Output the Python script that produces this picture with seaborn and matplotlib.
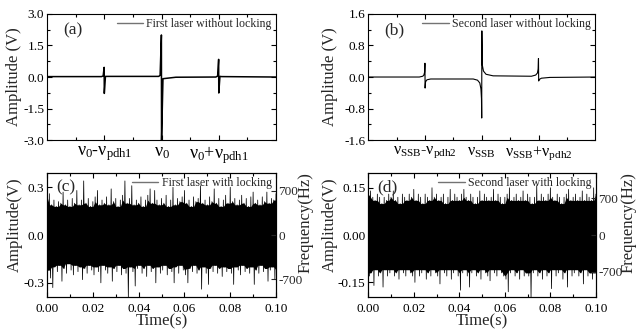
import numpy as np
import pandas as pd
import matplotlib
matplotlib.use('Agg')
import matplotlib.pyplot as plt
from matplotlib.ticker import MultipleLocator, FixedLocator
import seaborn as sns

# %% data
# (a) first laser error signal, sweep in arbitrary frequency units
a_freq = [0, 1.9, 1.96, 1.995, 2.0, 2.04, 2.1, 3.9, 3.95, 3.995, 4.0, 4.05,
          4.5, 5.9, 5.96, 5.995, 6.0, 6.04, 6.1, 8]
a_amp = [0.02, 0.02, 0.05, 0.46, -0.78, 0.03, 0.03, 0.03, 0.08, 2.0, -3.05,
         -0.08, -0.01, 0.0, 0.05, 0.84, -0.76, 0.03, 0.02, 0.0]

# (b) second laser error signal
b_freq = [0, 1.8, 1.92, 1.96, 1.985, 1.998, 2.003, 2.02, 2.07, 2.2, 3.7, 3.85,
          3.93, 3.97, 3.99, 3.998, 4.003, 4.02, 4.06, 4.15, 4.4, 5.75, 5.9,
          5.96, 5.985, 5.998, 6.005, 6.03, 6.1, 6.4, 8]
b_amp = [0.0, 0.0, 0.02, 0.05, 0.12, 0.35, -0.28, -0.12, -0.07, -0.05, -0.05,
         -0.08, -0.15, -0.3, -0.55, -1.04, 1.17, 0.3, 0.15, 0.07, 0.03, 0.02,
         0.05, 0.1, 0.2, 0.47, -0.1, -0.06, -0.03, -0.01, 0.0]

a_ticklabels = [r'$\nu_0$-$\nu_{\rm pdh1}$', r'$\nu_0$', r'$\nu_0$+$\nu_{\rm pdh1}$']
b_ticklabels = [r'$\nu_{\rm SSB}$-$\nu_{\rm pdh2}$', r'$\nu_{\rm SSB}$',
                r'$\nu_{\rm SSB}$+$\nu_{\rm pdh2}$']

# (c) locked first laser: upper / lower excursions every 1 ms
c_upper = [0.24, 0.26, 0.19, 0.22, 0.18, 0.21, 0.2, 0.27, 0.19, 0.22,
           0.18, 0.23, 0.2, 0.28, 0.19, 0.22, 0.34, 0.2, 0.23, 0.18,
           0.21, 0.24, 0.28, 0.19, 0.22, 0.2, 0.24, 0.19, 0.29, 0.21,
           0.23, 0.18, 0.22, 0.25, 0.34, 0.2, 0.23, 0.31, 0.19, 0.22,
           0.2, 0.24, 0.18, 0.22, 0.25, 0.29, 0.2, 0.28, 0.22, 0.19,
           0.23, 0.2, 0.25, 0.18, 0.22, 0.3, 0.19, 0.23, 0.21, 0.24,
           0.28, 0.2, 0.22, 0.18, 0.24, 0.21, 0.23, 0.31, 0.2, 0.22,
           0.19, 0.24, 0.21, 0.29, 0.2, 0.23, 0.18, 0.22, 0.25, 0.2,
           0.3, 0.21, 0.23, 0.19, 0.22, 0.25, 0.2, 0.23, 0.18, 0.24,
           0.27, 0.2, 0.22, 0.19, 0.24, 0.21, 0.27, 0.2, 0.23, 0.22, 0.26]
c_lower = [-0.22, -0.27, -0.33, -0.2, -0.23, -0.19, -0.29, -0.21, -0.24, -0.18,
           -0.22, -0.25, -0.19, -0.23, -0.2, -0.28, -0.21, -0.24, -0.19, -0.22,
           -0.25, -0.2, -0.23, -0.3, -0.19, -0.22, -0.24, -0.2, -0.29, -0.21,
           -0.23, -0.19, -0.25, -0.21, -0.24, -0.39, -0.2, -0.23, -0.32, -0.21,
           -0.19, -0.24, -0.21, -0.26, -0.19, -0.23, -0.21, -0.3, -0.2, -0.24,
           -0.22, -0.19, -0.25, -0.21, -0.23, -0.3, -0.2, -0.24, -0.19, -0.22,
           -0.25, -0.3, -0.21, -0.23, -0.19, -0.24, -0.22, -0.34, -0.2, -0.24,
           -0.31, -0.21, -0.23, -0.19, -0.24, -0.21, -0.26, -0.2, -0.23, -0.21,
           -0.24, -0.31, -0.2, -0.22, -0.25, -0.19, -0.23, -0.21, -0.24, -0.2,
           -0.31, -0.22, -0.24, -0.19, -0.23, -0.21, -0.29, -0.22, -0.2, -0.28, -0.23]

# (d) locked second laser
d_upper = [0.13, 0.14, 0.12, 0.11, 0.13, 0.12, 0.1, 0.12, 0.11, 0.13,
           0.12, 0.14, 0.11, 0.12, 0.1, 0.13, 0.12, 0.11, 0.13, 0.12,
           0.145, 0.11, 0.13, 0.12, 0.1, 0.13, 0.12, 0.11, 0.15, 0.12,
           0.13, 0.11, 0.12, 0.13, 0.1, 0.12, 0.145, 0.11, 0.13, 0.12,
           0.11, 0.13, 0.145, 0.12, 0.11, 0.13, 0.12, 0.1, 0.12, 0.14,
           0.11, 0.13, 0.12, 0.11, 0.12, 0.145, 0.11, 0.13, 0.12, 0.1,
           0.12, 0.13, 0.15, 0.11, 0.12, 0.13, 0.11, 0.12, 0.14, 0.11,
           0.13, 0.12, 0.1, 0.12, 0.157, 0.11, 0.13, 0.12, 0.11, 0.13,
           0.15, 0.12, 0.11, 0.13, 0.12, 0.1, 0.12, 0.13, 0.145, 0.11,
           0.12, 0.13, 0.11, 0.12, 0.14, 0.11, 0.13, 0.12, 0.11, 0.15, 0.13]
d_lower = [-0.13, -0.12, -0.16, -0.11, -0.13, -0.12, -0.165, -0.11, -0.13, -0.12,
           -0.11, -0.13, -0.12, -0.14, -0.11, -0.12, -0.13, -0.11, -0.12, -0.13,
           -0.15, -0.11, -0.13, -0.12, -0.11, -0.14, -0.12, -0.13, -0.11, -0.12,
           -0.13, -0.155, -0.11, -0.12, -0.13, -0.11, -0.14, -0.12, -0.11, -0.13,
           -0.175, -0.12, -0.11, -0.13, -0.165, -0.12, -0.11, -0.13, -0.12, -0.14,
           -0.11, -0.12, -0.13, -0.145, -0.11, -0.12, -0.13, -0.11, -0.12, -0.13,
           -0.14, -0.18, -0.12, -0.11, -0.13, -0.12, -0.14, -0.11, -0.13, -0.12,
           -0.13, -0.2, -0.12, -0.11, -0.13, -0.12, -0.14, -0.11, -0.13, -0.12,
           -0.17, -0.11, -0.13, -0.12, -0.11, -0.14, -0.12, -0.165, -0.11, -0.13,
           -0.12, -0.11, -0.13, -0.12, -0.155, -0.11, -0.13, -0.12, -0.14, -0.12, -0.13]

# %% style
sns.set_style('ticks')
plt.rcParams['font.family'] = ['Liberation Serif', 'DejaVu Serif']
plt.rcParams['mathtext.fontset'] = 'custom'
plt.rcParams['mathtext.rm'] = 'Liberation Serif'
plt.rcParams['mathtext.it'] = 'Liberation Serif'
plt.rcParams['axes.edgecolor'] = 'black'
plt.rcParams['axes.linewidth'] = 0.8

TICK_FS = 9.5
LAB_FS = 12
LEG_FS = 8.6


def style_axes(ax, right=True):
    ax.tick_params(which='both', direction='in', top=True, right=right,
                   colors='black', labelsize=TICK_FS, width=0.8)
    ax.tick_params(which='major', length=3.5)
    ax.tick_params(which='minor', length=2)
    ax.tick_params(axis='x', pad=4)
    ax.tick_params(axis='y', pad=2)


def add_legend(ax):
    leg = ax.legend(loc='upper right', frameon=False, fontsize=LEG_FS,
                    handlelength=2.2, handletextpad=0.3, borderaxespad=0.15,
                    borderpad=0.2)
    for ln in leg.get_lines():
        ln.set_color('0.45')
        ln.set_linewidth(1.0)


def error_panel(rect, freq, amp, lim, step, labels, nu_fs, label, tag, lw,
                ylab_x):
    ax = fig.add_axes(rect)
    df = pd.DataFrame({'f': freq, 'v': amp})
    sns.lineplot(data=df, x='f', y='v', ax=ax, color='black', lw=lw,
                 sort=False, estimator=None, label=label)
    ax.set_xlim(0, 8)
    ax.set_ylim(-lim, lim)
    ax.xaxis.set_major_locator(FixedLocator([2, 4, 6]))
    ax.xaxis.set_minor_locator(FixedLocator([1, 3, 5, 7]))
    ax.set_xticklabels(labels)
    ax.yaxis.set_major_locator(MultipleLocator(step))
    ax.yaxis.set_minor_locator(MultipleLocator(step / 2))
    ax.set_yticklabels([f'{v:.1f}' for v in ax.get_yticks()])
    ax.set_xlabel('')
    ax.set_ylabel('Amplitude (V)', fontsize=LAB_FS)
    ax.yaxis.set_label_coords(ylab_x, 0.5)
    style_axes(ax)
    ax.tick_params(axis='x', labelsize=nu_fs, pad=3)
    ax.text(0.07, 0.93, tag, transform=ax.transAxes, fontsize=12.5,
            va='top', ha='left')
    add_legend(ax)
    return ax


def noise_panel(rect, up, lo, ylim, step, flim, label, tag, fmt,
                ylab_x, flab_x):
    ax = fig.add_axes(rect)
    t = np.linspace(0, 0.1, len(up))
    up = np.array(up)
    lo = np.array(lo)
    # solid core of the trace, spikes come from the zigzag line
    core_up = np.minimum(np.minimum(up, np.roll(up, 1)), np.roll(up, -1))
    core_lo = np.maximum(np.maximum(lo, np.roll(lo, 1)), np.roll(lo, -1))
    ax.fill_between(t, core_lo, core_up, color='black', lw=0)
    zig = pd.DataFrame({'t': np.ravel(np.column_stack([t, t + 0.0005])),
                        'v': np.ravel(np.column_stack([up, lo]))})
    sns.lineplot(data=zig, x='t', y='v', ax=ax, color='black', lw=0.55,
                 sort=False, estimator=None, label=label)
    ax.set_xlim(0, 0.1)
    ax.set_ylim(-ylim, ylim)
    ax.xaxis.set_major_locator(MultipleLocator(0.02))
    ax.xaxis.set_minor_locator(MultipleLocator(0.01))
    ax.set_xticklabels([f'{v:.2f}' for v in ax.get_xticks()])
    ax.yaxis.set_major_locator(MultipleLocator(step))
    ax.yaxis.set_minor_locator(MultipleLocator(step / 2))
    ax.set_yticklabels([fmt.format(v) for v in ax.get_yticks()])
    ax.set_xlabel('Time(s)', fontsize=LAB_FS, labelpad=-1)
    ax.set_ylabel('Amplitude(V)', fontsize=LAB_FS)
    ax.yaxis.set_label_coords(ylab_x, 0.58)
    style_axes(ax, right=False)
    ax.text(0.04, 0.95, tag, transform=ax.transAxes, fontsize=12.5,
            va='top', ha='left')
    add_legend(ax)
    ax2 = ax.twinx()
    ax2.set_ylim(-flim, flim)
    ax2.set_yticks([-700, 0, 700])
    ax2.set_yticklabels(['-700', '0', '700'])
    ax2.tick_params(direction='in', labelsize=TICK_FS, length=3.5,
                    width=0.8, pad=1.5)
    ax2.set_ylabel('Frequency(Hz)', fontsize=LAB_FS)
    ax2.yaxis.set_label_coords(flab_x, 0.6)
    return ax


fig = plt.figure(figsize=(6.36, 3.32), dpi=100)

error_panel([0.074, 0.578, 0.360, 0.380], a_freq, a_amp, 3.0, 1.5,
            a_ticklabels, 13, 'First laser without locking', '(a)', 1.1,
            -0.11)
error_panel([0.579, 0.578, 0.357, 0.380], b_freq, b_amp, 1.6, 0.8,
            b_ticklabels, 11.5, 'Second laser without locking', '(b)', 0.8,
            -0.135)
noise_panel([0.074, 0.105, 0.360, 0.374], c_upper, c_lower, 0.39, 0.3, 980,
            'First laser with locking', '(c)', '{:.1f}', -0.105, 1.095)
noise_panel([0.579, 0.105, 0.358, 0.374], d_upper, d_lower, 0.197, 0.15, 1180,
            'Second laser with locking', '(d)', '{:.2f}', -0.135, 1.11)

fig.savefig('out.png', dpi=100)
